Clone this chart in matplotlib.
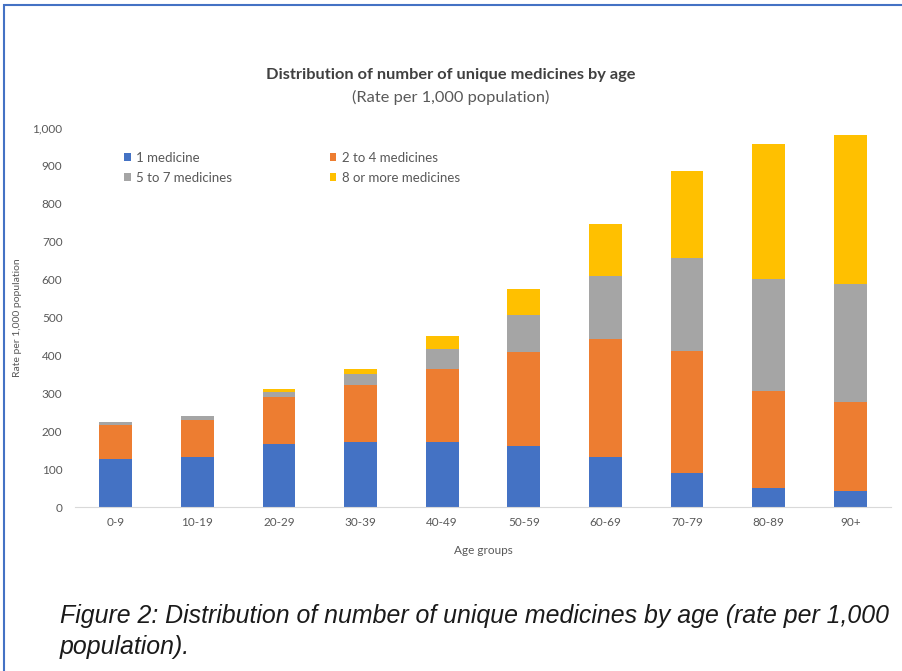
"""
Distribution of number of unique medicines by age
"""

import numpy as np
import matplotlib.pyplot as plt
from matplotlib.patches import Rectangle

# Age groups and stacked rates per 1,000 population
age_groups = ["0-9", "10-19", "20-29", "30-39", "40-49",
              "50-59", "60-69", "70-79", "80-89", "90+"]
one_medicine = [127, 131, 166, 172, 171, 162, 133, 90, 50, 41]
two_to_four = [90, 99, 124, 150, 192, 247, 309, 322, 257, 235]
five_to_seven = [6, 9, 13, 29, 55, 97, 167, 244, 294, 313]
eight_or_more = [2, 2, 8, 12, 33, 70, 137, 230, 358, 392]

series_names = ["1 medicine", "2 to 4 medicines", "5 to 7 medicines", "8 or more medicines"]
colors = ["#4472C4", "#ED7D31", "#A5A5A5", "#FFC000"]

TEXT_GREY = "#595959"


def draw_chart(fig):
    ax = fig.add_axes([75 / 902, 1 - 507 / 671, (891 - 75) / 902, 379 / 671])
    x = np.arange(len(age_groups))
    bottom = np.zeros(len(age_groups))
    bars = []
    for vals, name, c in zip([one_medicine, two_to_four, five_to_seven, eight_or_more],
                             series_names, colors):
        b = ax.bar(x, vals, width=0.4, bottom=bottom, color=c, label=name)
        bars.append(b)
        bottom += np.array(vals)

    ax.set_xlim(-0.5, len(age_groups) - 0.5)
    ax.set_ylim(0, 1000)
    ax.set_yticks(range(0, 1001, 100))
    ax.set_yticklabels([f"{v:,}" for v in range(0, 1001, 100)])
    ax.set_xticks(x)
    ax.set_xticklabels(age_groups)
    ax.tick_params(length=0, labelsize=8.5, labelcolor=TEXT_GREY)
    ax.tick_params(axis="x", pad=7)
    ax.tick_params(axis="y", pad=9)

    for s in ["top", "right", "left"]:
        ax.spines[s].set_visible(False)
    ax.spines["bottom"].set_color("#D9D9D9")

    ax.set_xlabel("Age groups", fontsize=8.5, color=TEXT_GREY)
    ax.xaxis.set_label_coords(0.5, -0.10)
    ax.set_ylabel("Rate per 1,000 population", fontsize=7.5, color=TEXT_GREY)
    ax.yaxis.set_label_coords(-0.065, 0.5)

    # legend rows: 1 / 2-4 then 5-7 / 8+ (matplotlib fills column-wise)
    order = [0, 2, 1, 3]
    leg = ax.legend([bars[i] for i in order], [series_names[i] for i in order],
                    ncol=2, loc="upper left", bbox_to_anchor=(0.054, 0.951),
                    frameon=False, fontsize=9.5, handlelength=0.5, handleheight=0.5,
                    handletextpad=0.4, columnspacing=7.4, labelspacing=0.6,
                    borderaxespad=0)
    for t in leg.get_texts():
        t.set_color(TEXT_GREY)
    return ax


if __name__ == "__main__":
    plt.rcParams["font.family"] = ["Lato", "DejaVu Sans"]
    fig = plt.figure(figsize=(9.02, 6.71), dpi=100)

    # blue frame around the figure
    fig.patches.append(Rectangle((4 / 902, -0.05), 1.2, 1 - 5 / 671 + 0.05,
                                 transform=fig.transFigure, fill=False,
                                 edgecolor="#4472C4", linewidth=1.5))

    draw_chart(fig)

    fig.text(451 / 902, 1 - 75 / 671, "Distribution of number of unique medicines by age",
             ha="center", va="center", fontsize=11.8, fontweight="bold", color="#404040")
    fig.text(451 / 902, 1 - 97 / 671, "(Rate per 1,000 population)",
             ha="center", va="center", fontsize=11.8, color=TEXT_GREY)

    # caption below the chart
    fig.text(60 / 902, 1 - 616 / 671,
             "Figure 2: Distribution of number of unique medicines by age (rate per 1,000",
             ha="left", va="center", fontsize=17.9, style="italic",
             family=["Liberation Sans", "DejaVu Sans"], color="#1a1a1a")
    fig.text(60 / 902, 1 - 647 / 671, "population).",
             ha="left", va="center", fontsize=17.9, style="italic",
             family=["Liberation Sans", "DejaVu Sans"], color="#1a1a1a")

    fig.savefig("out.png", dpi=100)
